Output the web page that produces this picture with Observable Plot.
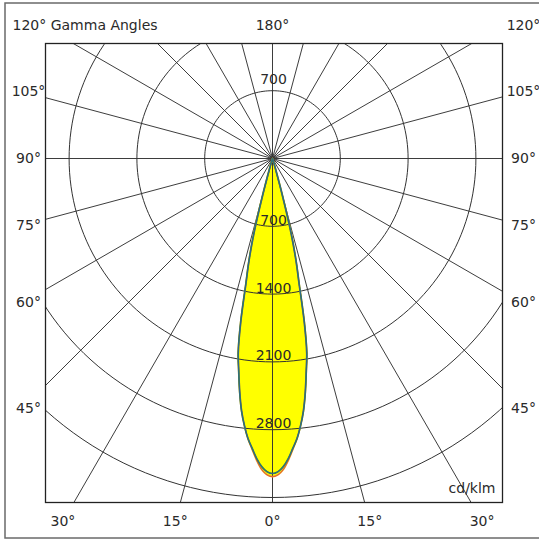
<!DOCTYPE html>
<html>
<head>
<meta charset="utf-8">
<script src="https://cdn.jsdelivr.net/npm/d3@7"></script>
<script src="https://cdn.jsdelivr.net/npm/@observablehq/plot@0.6"></script>
<style>
  html, body { margin: 0; padding: 0; background: #fff; }
  #chart svg { display: block; }
</style>
</head>
<body>
<div id="chart"></div>
<script>
// ---------- DATA ----------
const gammaDeg = [0, 1, 2, 3, 4, 5, 6, 7, 8, 9, 10, 11, 12, 13, 14, 15, 16, 17, 18];
// cd/klm, plane C0-C180 (orange/red outline)
const intensityC0C180 = [3285, 3266, 3212, 3120, 3010, 2905, 2773, 2622, 2432, 2227, 2038, 1720, 1322, 1074, 785, 398, 119, 40, 0];
// cd/klm, plane C90-C270 (green/blue outline)
const intensityC90C270 = [3252, 3234, 3183, 3103, 3000, 2902, 2773, 2624, 2435, 2227, 2038, 1720, 1322, 1074, 785, 398, 119, 40, 0];
const ringValues = [700, 1400, 2100, 2800, 3500];
const ringLabelValues = [700, 1400, 2100, 2800];
const spokeAngles = [0, 15, 30, 45, 60, 75, 90, 105, 120, 135, 150, 165, 180, 195, 210, 225, 240, 255, 270, 285, 300, 315, 330, 345];
const bottomTicks = [-30, -15, 0, 15, 30];
const sideTicks = [45, 60, 75, 90, 105];
const topTick = 180;
const cornerTick = 120;
const titleText = "Gamma Angles";
const unitText = "cd/klm";

// ---------- LAYOUT ----------
const W = 539, H = 540;
const frame = {left: 45, right: 502, top: 43, bottom: 502};
const center = {x: 272, y: 158};
const pxPerRing = 67.8;            // pixels per 700 cd/klm
const k = pxPerRing / 700;         // px per cd/klm
const xDomain = [(frame.left - center.x) / k, (frame.right - center.x) / k];
const yDomain = [-(frame.bottom - center.y) / k, (center.y - frame.top) / k];
const rad = d => d * Math.PI / 180;

function planePoints(values) {
  const pts = [];
  for (let i = gammaDeg.length - 1; i >= 0; i--) {
    pts.push({x: values[i] * Math.sin(rad(gammaDeg[i])), y: -values[i] * Math.cos(rad(gammaDeg[i]))});
  }
  for (let i = 1; i < gammaDeg.length; i++) {
    pts.push({x: -values[i] * Math.sin(rad(gammaDeg[i])), y: -values[i] * Math.cos(rad(gammaDeg[i]))});
  }
  return pts;
}
const planeA = planePoints(intensityC0C180);
const planeB = planePoints(intensityC90C270);

const ringPts = ringValues.flatMap(r => d3.range(0, 361, 2).map(a => ({r, x: r * Math.sin(rad(a)), y: r * Math.cos(rad(a))})));

// label positions (px offsets from centre converted to data units)
const sideDist = 250, sideLeftX = -244, sideRightX = 251, bottomDist = 363, topDist = 133;
const sideLabels = sideTicks.flatMap(g => {
  const off = sideDist / Math.tan(rad(g));
  const yv = -(Math.abs(off) < 1e-6 ? 0 : off) / k;
  return [
    {x: sideLeftX / k, y: yv, t: g + "°"},
    {x: sideRightX / k, y: yv, t: g + "°"}
  ];
});
const bottomLabels = bottomTicks.map(g => ({x: bottomDist * Math.tan(rad(g)) / k, y: -bottomDist / k, t: Math.abs(g) + "°"}));
const topLabels = [
  {x: 0, y: topDist / k, t: topTick + "°"},
  {x: sideRightX / k, y: topDist / k, t: cornerTick + "°"}
];
const titleLabel = [{x: -260 / k, y: topDist / k, t: cornerTick + "° " + titleText}];

const gridColor = "#333";
const textColor = "#2a2a2a";

const chart = Plot.plot({
  width: W,
  height: H,
  marginLeft: frame.left,
  marginRight: W - frame.right,
  marginTop: frame.top,
  marginBottom: H - frame.bottom,
  x: {domain: xDomain, axis: null},
  y: {domain: yDomain, axis: null},
  style: {fontFamily: "'DejaVu Sans', sans-serif", fontSize: "14px", background: "#fff", overflow: "visible"},
  marks: [
    // yellow beam
    Plot.line(planeA, {x: "x", y: "y", fill: "#ffff00", stroke: "none", curve: "catmull-rom"}),
    // rings
    Plot.line(ringPts, {x: "x", y: "y", z: "r", stroke: gridColor, strokeWidth: 1, clip: true}),
    // spokes
    Plot.link(spokeAngles, {
      x1: () => 0, y1: () => 0,
      x2: a => 8000 * Math.sin(rad(a)), y2: a => -8000 * Math.cos(rad(a)),
      stroke: gridColor, strokeWidth: 0.95, clip: true
    }),
    // beam outlines
    Plot.line(planeA, {x: "x", y: "y", stroke: "#f0a030", strokeWidth: 1.8, curve: "catmull-rom"}),
    Plot.line(planeA, {x: "x", y: "y", stroke: "#d84030", strokeWidth: 0.7, curve: "catmull-rom"}),
    Plot.line(planeB, {x: "x", y: "y", stroke: "#3a8a3e", strokeWidth: 1.7, curve: "catmull-rom"}),
    Plot.line(planeB, {x: "x", y: "y", stroke: "#2a5fa0", strokeWidth: 0.9, curve: "catmull-rom"}),
    Plot.frame({stroke: "#222", strokeWidth: 1.3}),
    // ring labels
    Plot.text(ringLabelValues, {x: () => 0, y: r => -r, text: r => String(r), dx: 1, dy: -1.5, lineAnchor: "bottom", fill: textColor}),
    Plot.text([ringLabelValues[0]], {x: () => 0, y: r => r, text: r => String(r), dx: 1, dy: -7, lineAnchor: "bottom", fill: textColor}),
    // angle labels
    Plot.text(sideLabels, {x: "x", y: "y", text: "t", fill: textColor, lineAnchor: "middle"}),
    Plot.text(bottomLabels, {x: "x", y: "y", text: "t", fill: textColor, lineAnchor: "middle"}),
    Plot.text(topLabels, {x: "x", y: "y", text: "t", fill: textColor, lineAnchor: "middle"}),
    Plot.text(titleLabel, {x: "x", y: "y", text: "t", fill: textColor, lineAnchor: "middle", textAnchor: "start"}),
    // unit
    Plot.text([unitText], {x: () => xDomain[1], y: () => yDomain[0], text: d => d, dx: -7, dy: -10, textAnchor: "end", lineAnchor: "bottom", fill: textColor})
  ]
});

d3.select(chart).append("rect")
  .attr("x", 5).attr("y", 3).attr("width", 545).attr("height", 535)
  .attr("fill", "none").attr("stroke", "#6a6a6a").attr("stroke-width", 1.5);

document.getElementById("chart").appendChild(chart);
</script>
</body>
</html>
